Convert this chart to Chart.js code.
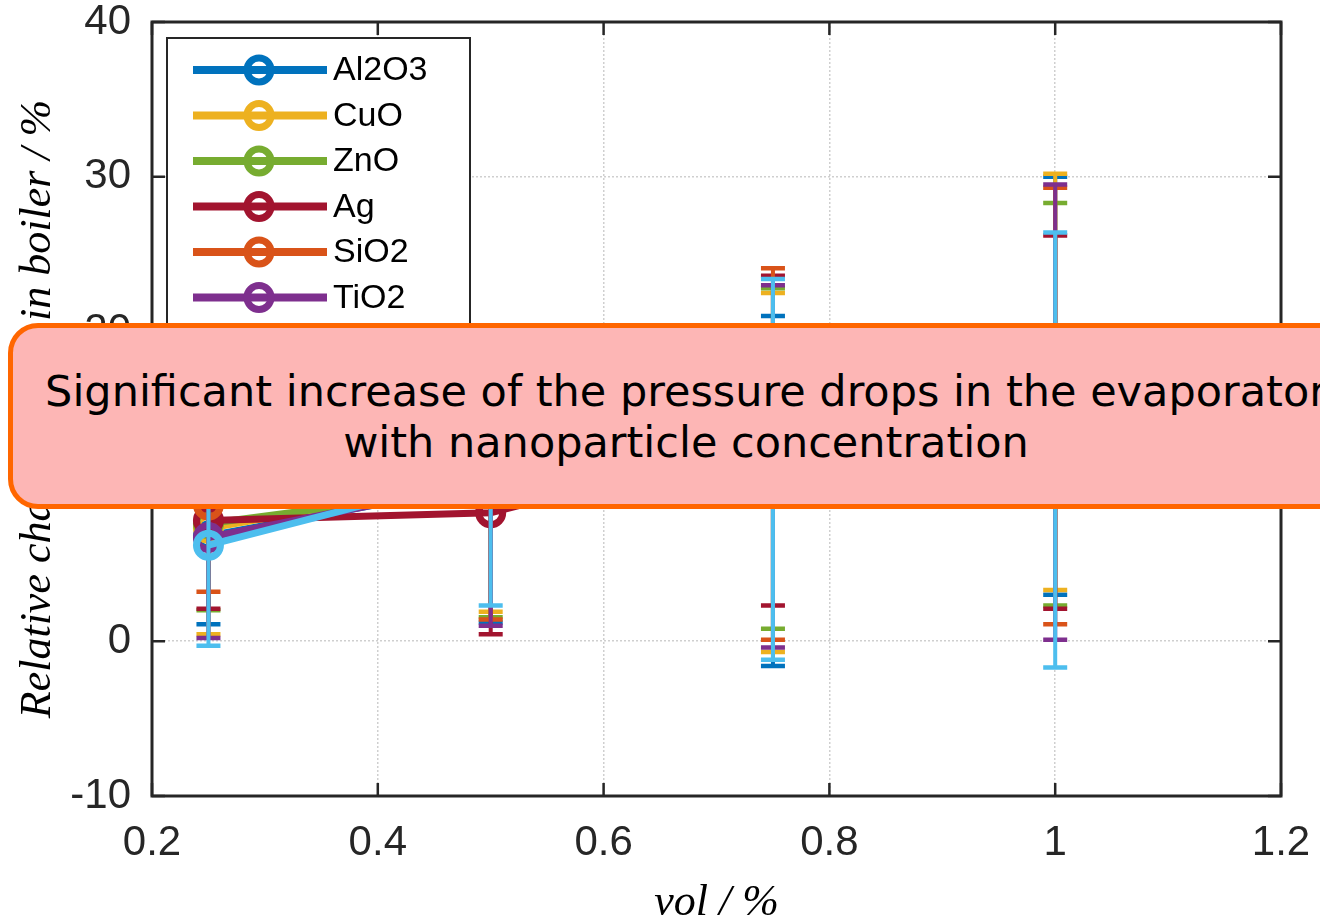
<!DOCTYPE html>
<html>
<head>
<meta charset="utf-8">
<script src="https://cdn.jsdelivr.net/npm/chart.js@4.4.0/dist/chart.umd.min.js"></script>
<style>
  body { margin: 0; background: #fff; overflow: hidden; }
  #wrap { position: relative; width: 1320px; height: 916px; overflow: hidden; }
  #note {
    position: absolute; left: 8px; top: 323px; width: 1346px; height: 174px;
    background: #fdb6b5; border: 5px solid #ff6600; border-radius: 30px;
    font-family: "DejaVu Sans", sans-serif; font-size: 43px; line-height: 51px;
    color: #000; text-align: center; display: flex; align-items: center; justify-content: center;
    padding-top: 2px; box-sizing: content-box;
  }
</style>
</head>
<body>
<div id="wrap">
  <canvas id="dp-chart"></canvas>
  <div id="note">Significant increase of the pressure drops in the evaporator<br>with nanoparticle concentration</div>
</div>
<script>
// volume fractions
const vol = [0.25, 0.5, 0.75, 1.0];

const names = ['Al2O3', 'CuO', 'ZnO', 'Ag', 'SiO2', 'TiO2', 'Fe3O4'];
const colors = ['#0072BD', '#EDB120', '#77AC30', '#A2142F', '#D95319', '#7E2F8E', '#4DBEEE'];

// mean relative change, %
const al2o3 = [6.8, 10.2, 9.7, 16.5];
const cuo   = [7.3, 10.5, 10.9, 16.75];
const zno   = [7.6, 10.0, 11.8, 15.3];
const ag    = [7.8, 8.3, 12.95, 14.15];
const sio2  = [8.8, 10.8, 12.1, 15.2];
const tio2  = [6.7, 10.3, 11.3, 14.8];
const fe3o4 = [6.2, 10.9, 11.1, 12.35];

// error bar half-widths, %
const errAl2o3 = [5.7, 9.0, 11.3, 13.5];
const errCuo   = [6.85, 8.6, 11.6, 13.45];
const errZno   = [5.6, 8.45, 11.0, 13.0];
const errAg    = [5.7, 7.85, 10.65, 12.05];
const errSio2  = [5.6, 9.4, 12.0, 14.1];
const errTio2  = [6.5, 9.3, 11.7, 14.7];
const errFe3o4 = [6.5, 8.6, 12.3, 14.05];

const xTicks = [0.2, 0.4, 0.6, 0.8, 1, 1.2];
const yTicks = [-10, 0, 10, 20, 30, 40];

const means = [al2o3, cuo, zno, ag, sio2, tio2, fe3o4];
const errs = [errAl2o3, errCuo, errZno, errAg, errSio2, errTio2, errFe3o4];

const ink = '#262626';

const datasets = means.map((vals, i) => ({
    label: names[i],
    data: vals.map((v, j) => ({ x: vol[j], y: v })),
    err: errs[i],
    borderColor: colors[i],
    backgroundColor: colors[i],
    borderWidth: 7,
    pointRadius: 12,
    pointBorderWidth: 7,
    pointBackgroundColor: 'rgba(0,0,0,0)',
    pointBorderColor: colors[i],
    tension: 0,
    order: names.length - i
}));

const errorBars = {
    id: 'errorBars',
    afterDatasetDraw(chart, args) {
        const ds = chart.data.datasets[args.index];
        const xs = chart.scales.x, ys = chart.scales.y;
        const ctx = chart.ctx;
        ctx.save();
        ctx.strokeStyle = ds.borderColor;
        ds.data.forEach((p, j) => {
            const px = xs.getPixelForValue(p.x);
            const top = ys.getPixelForValue(p.y + ds.err[j]);
            const bot = ys.getPixelForValue(p.y - ds.err[j]);
            ctx.lineWidth = 4;
            ctx.beginPath();
            ctx.moveTo(px, top); ctx.lineTo(px, bot);
            ctx.stroke();
            ctx.lineWidth = 4.5;
            ctx.beginPath();
            ctx.moveTo(px - 12, top); ctx.lineTo(px + 12, top);
            ctx.moveTo(px - 12, bot); ctx.lineTo(px + 12, bot);
            ctx.stroke();
        });
        ctx.restore();
    }
};

// box frame, inward ticks on all sides, legend
const frame = {
    id: 'frame',
    afterDraw(chart) {
        const { ctx, chartArea: a } = chart;
        const xs = chart.scales.x, ys = chart.scales.y;
        ctx.save();
        ctx.strokeStyle = ink;
        ctx.lineWidth = 2.5;
        ctx.beginPath();
        xTicks.forEach(v => {
            const px = xs.getPixelForValue(v);
            ctx.moveTo(px, a.bottom); ctx.lineTo(px, a.bottom - 13);
            ctx.moveTo(px, a.top); ctx.lineTo(px, a.top + 13);
        });
        yTicks.forEach(v => {
            const py = ys.getPixelForValue(v);
            ctx.moveTo(a.left, py); ctx.lineTo(a.left + 13, py);
            ctx.moveTo(a.right, py); ctx.lineTo(a.right - 13, py);
        });
        ctx.stroke();
        ctx.lineWidth = 3;
        ctx.strokeRect(a.left, a.top, a.right - a.left, a.bottom - a.top);

        // legend
        const lx = 167, ly = 38;
        ctx.fillStyle = '#fff';
        ctx.fillRect(lx, ly, 303, 335);
        ctx.lineWidth = 2;
        ctx.strokeRect(lx, ly, 303, 335);
        ctx.font = '34px "Liberation Sans", Arial, sans-serif';
        ctx.textBaseline = 'middle';
        names.forEach((n, i) => {
            const y = 70 + i * 45.5;
            ctx.strokeStyle = colors[i];
            ctx.lineWidth = 8;
            ctx.beginPath();
            ctx.moveTo(193, y); ctx.lineTo(327, y);
            ctx.stroke();
            ctx.lineWidth = 7;
            ctx.beginPath();
            ctx.arc(259, y, 12, 0, Math.PI * 2);
            ctx.stroke();
            ctx.fillStyle = '#000';
            ctx.fillText(n, 333, y + 1);
        });
        ctx.restore();
    }
};

const ctx = document.getElementById('dp-chart').getContext('2d');
new Chart(ctx, {
    type: 'line',
    data: { datasets },
    plugins: [errorBars, frame],
    options: {
        responsive: true,
        maintainAspectRatio: false,
        animation: false,
        layout: { padding: { left: 0, right: 39, top: 22, bottom: 0 } },
        plugins: { legend: { display: false }, tooltip: { enabled: false } },
        scales: {
            x: {
                type: 'linear',
                min: 0.2, max: 1.2,
                afterFit(s) { s.height = 120; s.paddingLeft = 0; s.paddingRight = 0; },
                afterBuildTicks(s) { s.ticks = xTicks.map(v => ({ value: v })); },
                ticks: {
                    padding: 22,
                    color: ink,
                    font: { family: '"Liberation Sans", Arial, sans-serif', size: 42 },
                    callback: v => String(parseFloat(v.toFixed(1)))
                },
                grid: { color: '#cfcfcf', lineWidth: 1.5, drawTicks: false },
                border: { display: false, dash: [2, 2] },
                title: {
                    display: true, text: 'vol / %', color: '#000',
                    font: { family: '"Liberation Serif", "Times New Roman", serif', style: 'italic', size: 44, lineHeight: 0.55 },
                    padding: { top: 0, bottom: 0 }
                }
            },
            y: {
                min: -10, max: 40,
                afterFit(s) { s.width = 152; s.paddingTop = 0; s.paddingBottom = 0; },
                afterBuildTicks(s) { s.ticks = yTicks.map(v => ({ value: v })); },
                ticks: {
                    padding: 21,
                    color: ink,
                    font: { family: '"Liberation Sans", Arial, sans-serif', size: 42 }
                },
                grid: { color: '#cfcfcf', lineWidth: 1.5, drawTicks: false },
                border: { display: false, dash: [2, 2] },
                title: {
                    display: true, text: 'Relative change of Δp in boiler / %', color: '#000',
                    font: { family: '"Liberation Serif", "Times New Roman", serif', style: 'italic', size: 44, lineHeight: 1 },
                    padding: { top: 16, bottom: 0 }
                }
            }
        }
    }
});
</script>
</body>
</html>
